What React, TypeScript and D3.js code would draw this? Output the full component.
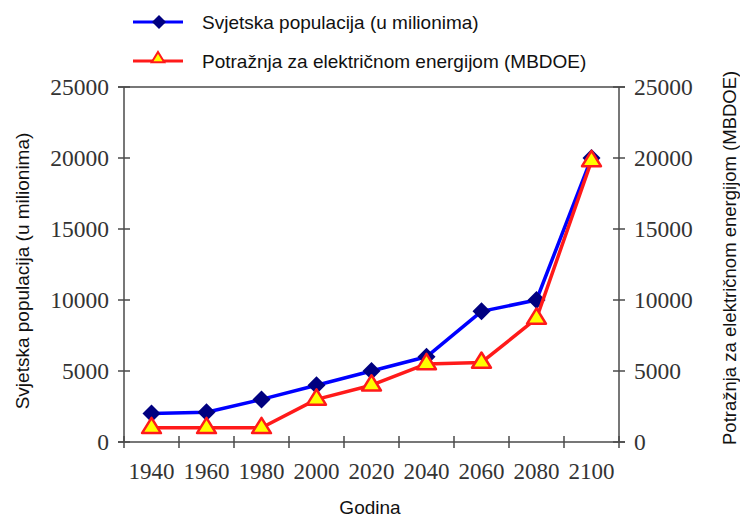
import React from "react";
import * as d3 from "d3";

const years = ["1940", "1960", "1980", "2000", "2020", "2040", "2060", "2080", "2100"];
const population = [2000, 2100, 3000, 4000, 5000, 6000, 9200, 10000, 20000];
const demand = [1000, 1000, 1000, 3000, 4000, 5500, 5600, 8700, 19800];
const yTicks = [0, 5000, 10000, 15000, 20000, 25000];

const W = 740, H = 519;
const L = 124, R = 619, T = 87, B = 442;

export default function App() {
  const x = d3.scaleBand<string>().domain(years).range([L, R]).padding(0);
  const y = d3.scaleLinear().domain([0, 25000]).range([B, T]);
  const cx = (yr: string) => (x(yr) as number) + x.bandwidth() / 2;
  const line = d3.line<number>().x((_, i) => cx(years[i])).y((v) => y(v));
  const axisColor = "#4a4a4a";
  const tickFont = "'Liberation Serif', 'Times New Roman', serif";
  const sans = "'Liberation Sans', Arial, sans-serif";
  const boundaries = years.map((yr) => x(yr) as number).concat([R]);
  const diamond = (px: number, py: number, r: number) =>
    `M${px},${py - r}L${px + r},${py}L${px},${py + r}L${px - r},${py}Z`;
  const tri = (px: number, py: number, s: number) =>
    `M${px},${py - s}L${px + s * 1.05},${py + s * 0.7}L${px - s * 1.05},${py + s * 0.7}Z`;

  return (
    <svg width={W} height={H} style={{ position: "absolute", left: 0, top: 0, background: "#fff" }}>
      <rect x={0} y={0} width={W} height={H} fill="#fff" />
      {/* legend */}
      <line x1={133} x2={183} y1={22} y2={22} stroke="#0000ff" strokeWidth={3} />
      <path d={diamond(159, 22, 7)} fill="#000080" />
      <text x={202} y={29} fontFamily={sans} fontSize={19} fill="#111">Svjetska populacija (u milionima)</text>
      <line x1={133} x2={183} y1={61} y2={61} stroke="#ff1a1a" strokeWidth={3} />
      <path d={tri(158, 58, 6)} fill="#ffff00" stroke="#ff1a1a" strokeWidth={2} />
      <text x={202} y={68} fontFamily={sans} fontSize={19} fill="#111">Potražnja za električnom energijom (MBDOE)</text>

      {/* frame */}
      <line x1={L} x2={L} y1={T} y2={B} stroke={axisColor} strokeWidth={1.5} />
      <line x1={R} x2={R} y1={T} y2={B} stroke={axisColor} strokeWidth={1.5} />
      <line x1={L - 6} x2={R + 6} y1={T} y2={T} stroke={axisColor} strokeWidth={1.5} />
      <line x1={L - 6} x2={R + 6} y1={B} y2={B} stroke={axisColor} strokeWidth={1.5} />
      {yTicks.map((t) => (
        <g key={t}>
          <line x1={L - 6} x2={L + 6} y1={y(t)} y2={y(t)} stroke={axisColor} strokeWidth={1.5} />
          <line x1={R - 6} x2={R + 6} y1={y(t)} y2={y(t)} stroke={axisColor} strokeWidth={1.5} />
          <text x={L - 15} y={y(t) + 8} textAnchor="end" fontFamily={tickFont} fontSize={23.5} fill="#333">{t}</text>
          <text x={R + 15} y={y(t) + 8} textAnchor="start" fontFamily={tickFont} fontSize={23.5} fill="#333">{t}</text>
        </g>
      ))}
      {boundaries.map((bx, i) => (
        <line key={i} x1={bx} x2={bx} y1={B - 6} y2={B + 6} stroke={axisColor} strokeWidth={1.5} />
      ))}
      {years.map((yr) => (
        <text key={yr} x={cx(yr)} y={479} textAnchor="middle" fontFamily={tickFont} fontSize={23} fill="#333">{yr}</text>
      ))}

      {/* axis titles */}
      <text transform={`translate(29,271) rotate(-90)`} textAnchor="middle" fontFamily={sans} fontSize={19} fill="#111">Svjetska populacija (u milionima)</text>
      <text transform={`translate(736,445) rotate(-90)`} textAnchor="start" fontFamily={sans} fontSize={18.5} fill="#111">Potražnja za električnom energijom (MBDOE)</text>
      <text x={370} y={514} textAnchor="middle" fontFamily={sans} fontSize={19} fill="#111">Godina</text>

      {/* series */}
      <path d={line(population) as string} fill="none" stroke="#0000ff" strokeWidth={3.5} strokeLinejoin="round" />
      {population.map((v, i) => (
        <path key={"p" + i} d={diamond(cx(years[i]), y(v), 9)} fill="#000080" />
      ))}
      <path d={line(demand) as string} fill="none" stroke="#ff1a1a" strokeWidth={3.5} strokeLinejoin="round" />
      {demand.map((v, i) => (
        <path key={"d" + i} d={tri(cx(years[i]), y(v) - 1, 9)} fill="#ffff00" stroke="#ff1a1a" strokeWidth={2.5} strokeLinejoin="round" />
      ))}
    </svg>
  );
}
